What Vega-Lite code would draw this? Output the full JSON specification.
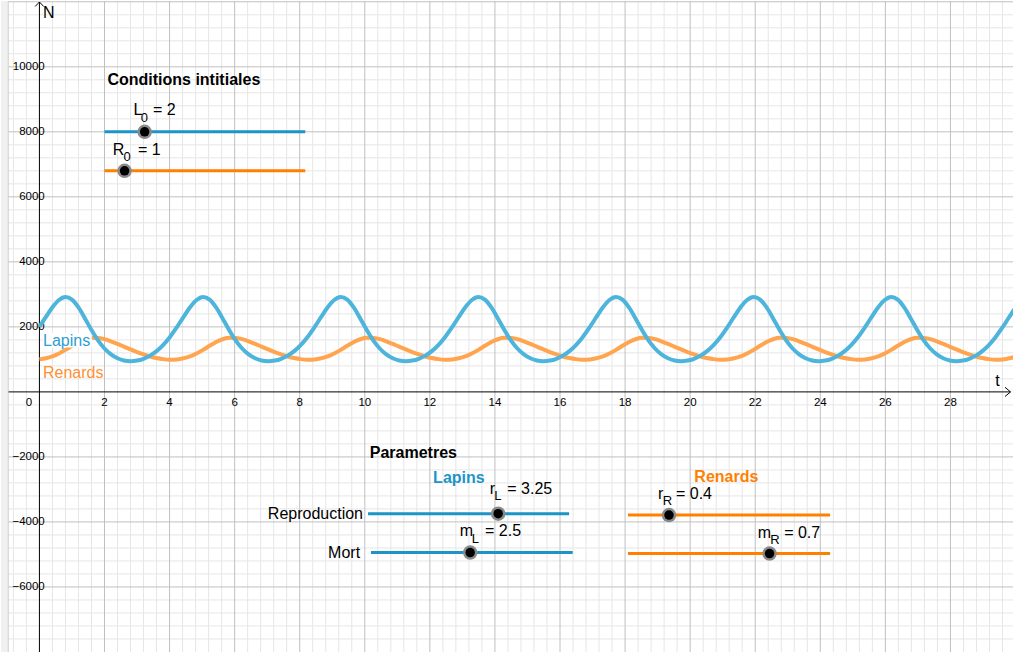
{
"$schema":"https://vega.github.io/schema/vega-lite/v6.json",
"width":1014,"height":653,"padding":0,
"autosize":{"type":"fit","contains":"padding"},
"background":"#ffffff",
"config":{"view":{"stroke":null},"text":{"font":"Liberation Sans"}},
"datasets":{
"gxMinor":[{"x":-0.8},{"x":-0.4},{"x":0.4},{"x":0.8},{"x":1.2},{"x":1.6},{"x":2.4},{"x":2.8},{"x":3.2},{"x":3.6},{"x":4.4},{"x":4.8},{"x":5.2},{"x":5.6},{"x":6.4},{"x":6.8},{"x":7.2},{"x":7.6},{"x":8.4},{"x":8.8},{"x":9.2},{"x":9.6},{"x":10.4},{"x":10.8},{"x":11.2},{"x":11.6},{"x":12.4},{"x":12.8},{"x":13.2},{"x":13.6},{"x":14.4},{"x":14.8},{"x":15.2},{"x":15.6},{"x":16.4},{"x":16.8},{"x":17.2},{"x":17.6},{"x":18.4},{"x":18.8},{"x":19.2},{"x":19.6},{"x":20.4},{"x":20.8},{"x":21.2},{"x":21.6},{"x":22.4},{"x":22.8},{"x":23.2},{"x":23.6},{"x":24.4},{"x":24.8},{"x":25.2},{"x":25.6},{"x":26.4},{"x":26.8},{"x":27.2},{"x":27.6},{"x":28.4},{"x":28.8},{"x":29.2},{"x":29.6}],
"gyMinor":[{"y":-7600},{"y":-7200},{"y":-6800},{"y":-6400},{"y":-5600},{"y":-5200},{"y":-4800},{"y":-4400},{"y":-3600},{"y":-3200},{"y":-2800},{"y":-2400},{"y":-1600},{"y":-1200},{"y":-800},{"y":-400},{"y":400},{"y":800},{"y":1200},{"y":1600},{"y":2400},{"y":2800},{"y":3200},{"y":3600},{"y":4400},{"y":4800},{"y":5200},{"y":5600},{"y":6400},{"y":6800},{"y":7200},{"y":7600},{"y":8400},{"y":8800},{"y":9200},{"y":9600},{"y":10400},{"y":10800},{"y":11200},{"y":11600}],
"gxMajor":[{"x":2},{"x":4},{"x":6},{"x":8},{"x":10},{"x":12},{"x":14},{"x":16},{"x":18},{"x":20},{"x":22},{"x":24},{"x":26},{"x":28}],
"gyMajor":[{"y":-6000},{"y":-4000},{"y":-2000},{"y":2000},{"y":4000},{"y":6000},{"y":8000},{"y":10000},{"y":12000}],
"axes":[{"x":0,"y":-8100,"x2":0,"y2":11993},{"x":-0.95,"y":0,"x2":29.847,"y2":0},{"x":-0.132,"y":11855,"x2":0,"y2":11993},{"x":0.132,"y":11855,"x2":0,"y2":11993},{"x":29.678,"y":141,"x2":29.847,"y2":0},{"x":29.678,"y":-141,"x2":29.847,"y2":0}],
"xlab":[{"x":-0.325,"y":-448,"txt":"0"},{"x":2,"y":-448,"txt":"2"},{"x":4,"y":-448,"txt":"4"},{"x":6,"y":-448,"txt":"6"},{"x":8,"y":-448,"txt":"8"},{"x":10,"y":-448,"txt":"10"},{"x":12,"y":-448,"txt":"12"},{"x":14,"y":-448,"txt":"14"},{"x":16,"y":-448,"txt":"16"},{"x":18,"y":-448,"txt":"18"},{"x":20,"y":-448,"txt":"20"},{"x":22,"y":-448,"txt":"22"},{"x":24,"y":-448,"txt":"24"},{"x":26,"y":-448,"txt":"26"},{"x":28,"y":-448,"txt":"28"}],
"ylab":[{"x":0.163,"y":10000,"txt":"10000"},{"x":0.163,"y":8000,"txt":"8000"},{"x":0.163,"y":6000,"txt":"6000"},{"x":0.163,"y":4000,"txt":"4000"},{"x":0.163,"y":2000,"txt":"2000"},{"x":0.163,"y":-2000,"txt":"−2000"},{"x":0.163,"y":-4000,"txt":"−4000"},{"x":0.163,"y":-6000,"txt":"−6000"}],
"axisNames":[{"x":0.11,"y":11512,"txt":"N"},{"x":29.38,"y":166,"txt":"t"}],
"pop":[
{"x":0,"L":2000,"R":1000},{"x":0.2,"L":2307,"R":1033},{"x":0.4,"L":2601,"R":1093},{"x":0.6,"L":2825,"R":1181},{"x":0.8,"L":2917,"R":1293},{"x":1,"L":2838,"R":1417},{"x":1.2,"L":2598,"R":1533},{"x":1.4,"L":2260,"R":1619},{"x":1.6,"L":1903,"R":1662},{"x":1.8,"L":1585,"R":1661},{"x":2,"L":1335,"R":1622},{"x":2.2,"L":1154,"R":1557},{"x":2.4,"L":1035,"R":1477},{"x":2.6,"L":968,"R":1391},{"x":2.8,"L":945,"R":1305},{"x":3,"L":963,"R":1224},{"x":3.2,"L":1019,"R":1151},{"x":3.4,"L":1115,"R":1090},{"x":3.6,"L":1254,"R":1041},{"x":3.8,"L":1440,"R":1008},{"x":4,"L":1674,"R":992},
{"x":4.23,"L":2000,"R":1000},{"x":4.43,"L":2307,"R":1033},{"x":4.63,"L":2601,"R":1093},{"x":4.83,"L":2825,"R":1181},{"x":5.03,"L":2917,"R":1293},{"x":5.23,"L":2838,"R":1417},{"x":5.43,"L":2598,"R":1533},{"x":5.63,"L":2260,"R":1619},{"x":5.83,"L":1903,"R":1662},{"x":6.03,"L":1585,"R":1661},{"x":6.23,"L":1335,"R":1622},{"x":6.43,"L":1154,"R":1557},{"x":6.63,"L":1035,"R":1477},{"x":6.83,"L":968,"R":1391},{"x":7.03,"L":945,"R":1305},{"x":7.23,"L":963,"R":1224},{"x":7.43,"L":1019,"R":1151},{"x":7.63,"L":1115,"R":1090},{"x":7.83,"L":1254,"R":1041},{"x":8.03,"L":1440,"R":1008},{"x":8.23,"L":1674,"R":992},
{"x":8.46,"L":2000,"R":1000},{"x":8.66,"L":2307,"R":1033},{"x":8.86,"L":2601,"R":1093},{"x":9.06,"L":2825,"R":1181},{"x":9.26,"L":2917,"R":1293},{"x":9.46,"L":2838,"R":1417},{"x":9.66,"L":2598,"R":1533},{"x":9.86,"L":2260,"R":1619},{"x":10.06,"L":1903,"R":1662},{"x":10.26,"L":1585,"R":1661},{"x":10.46,"L":1335,"R":1622},{"x":10.66,"L":1154,"R":1557},{"x":10.86,"L":1035,"R":1477},{"x":11.06,"L":968,"R":1391},{"x":11.26,"L":945,"R":1305},{"x":11.46,"L":963,"R":1224},{"x":11.66,"L":1019,"R":1151},{"x":11.86,"L":1115,"R":1090},{"x":12.06,"L":1254,"R":1041},{"x":12.26,"L":1440,"R":1008},{"x":12.46,"L":1674,"R":992},
{"x":12.69,"L":2000,"R":1000},{"x":12.89,"L":2307,"R":1033},{"x":13.09,"L":2601,"R":1093},{"x":13.29,"L":2825,"R":1181},{"x":13.49,"L":2917,"R":1293},{"x":13.69,"L":2838,"R":1417},{"x":13.89,"L":2598,"R":1533},{"x":14.09,"L":2260,"R":1619},{"x":14.29,"L":1903,"R":1662},{"x":14.49,"L":1585,"R":1661},{"x":14.69,"L":1335,"R":1622},{"x":14.89,"L":1154,"R":1557},{"x":15.09,"L":1035,"R":1477},{"x":15.29,"L":968,"R":1391},{"x":15.49,"L":945,"R":1305},{"x":15.69,"L":963,"R":1224},{"x":15.89,"L":1019,"R":1151},{"x":16.09,"L":1115,"R":1090},{"x":16.29,"L":1254,"R":1041},{"x":16.49,"L":1440,"R":1008},{"x":16.69,"L":1674,"R":992},
{"x":16.92,"L":2000,"R":1000},{"x":17.12,"L":2307,"R":1033},{"x":17.32,"L":2601,"R":1093},{"x":17.52,"L":2825,"R":1181},{"x":17.72,"L":2917,"R":1293},{"x":17.92,"L":2838,"R":1417},{"x":18.12,"L":2598,"R":1533},{"x":18.32,"L":2260,"R":1619},{"x":18.52,"L":1903,"R":1662},{"x":18.72,"L":1585,"R":1661},{"x":18.92,"L":1335,"R":1622},{"x":19.12,"L":1154,"R":1557},{"x":19.32,"L":1035,"R":1477},{"x":19.52,"L":968,"R":1391},{"x":19.72,"L":945,"R":1305},{"x":19.92,"L":963,"R":1224},{"x":20.12,"L":1019,"R":1151},{"x":20.32,"L":1115,"R":1090},{"x":20.52,"L":1254,"R":1041},{"x":20.72,"L":1440,"R":1008},{"x":20.92,"L":1674,"R":992},
{"x":21.15,"L":2000,"R":1000},{"x":21.35,"L":2307,"R":1033},{"x":21.55,"L":2601,"R":1093},{"x":21.75,"L":2825,"R":1181},{"x":21.95,"L":2917,"R":1293},{"x":22.15,"L":2838,"R":1417},{"x":22.35,"L":2598,"R":1533},{"x":22.55,"L":2260,"R":1619},{"x":22.75,"L":1903,"R":1662},{"x":22.95,"L":1585,"R":1661},{"x":23.15,"L":1335,"R":1622},{"x":23.35,"L":1154,"R":1557},{"x":23.55,"L":1035,"R":1477},{"x":23.75,"L":968,"R":1391},{"x":23.95,"L":945,"R":1305},{"x":24.15,"L":963,"R":1224},{"x":24.35,"L":1019,"R":1151},{"x":24.55,"L":1115,"R":1090},{"x":24.75,"L":1254,"R":1041},{"x":24.95,"L":1440,"R":1008},{"x":25.15,"L":1674,"R":992},
{"x":25.38,"L":2000,"R":1000},{"x":25.58,"L":2307,"R":1033},{"x":25.78,"L":2601,"R":1093},{"x":25.98,"L":2825,"R":1181},{"x":26.18,"L":2917,"R":1293},{"x":26.38,"L":2838,"R":1417},{"x":26.58,"L":2598,"R":1533},{"x":26.78,"L":2260,"R":1619},{"x":26.98,"L":1903,"R":1662},{"x":27.18,"L":1585,"R":1661},{"x":27.38,"L":1335,"R":1622},{"x":27.58,"L":1154,"R":1557},{"x":27.78,"L":1035,"R":1477},{"x":27.98,"L":968,"R":1391},{"x":28.18,"L":945,"R":1305},{"x":28.38,"L":963,"R":1224},{"x":28.58,"L":1019,"R":1151},{"x":28.78,"L":1115,"R":1090},{"x":28.98,"L":1254,"R":1041},{"x":29.18,"L":1440,"R":1008},{"x":29.38,"L":1674,"R":992},
{"x":29.61,"L":2000,"R":1000},{"x":29.81,"L":2307,"R":1033},{"x":30.01,"L":2601,"R":1093},{"x":30.21,"L":2825,"R":1181}],
"sliders":[{"sp":"Lapins","x":2,"x2":8.17,"y":8000,"v":3.234},{"sp":"Renards","x":2,"x2":8.17,"y":6800,"v":2.617},{"sp":"Lapins","x":10.1,"x2":16.28,"y":-3747,"v":14.1},{"sp":"Lapins","x":10.19,"x2":16.39,"y":-4943,"v":13.24},{"sp":"Renards","x":18.09,"x2":24.3,"y":-3790,"v":19.35},{"sp":"Renards","x":18.09,"x2":24.3,"y":-4974,"v":22.44}],
"heads":[{"x":2.089,"y":9448,"txt":"Conditions intitiales"},{"x":10.153,"y":-2030,"txt":"Parametres"}],
"heads2":[{"x":12.1,"y":-2797,"txt":"Lapins","sp":"Lapins"},{"x":20.13,"y":-2766,"txt":"Renards","sp":"Renards"}],
"labelsR":[{"x":9.945,"y":-3922,"txt":"Reproduction"},{"x":9.856,"y":-5118,"txt":"Mort"}],
"labels":[{"x":2.893,"y":8519,"txt":"L"},{"x":3.491,"y":8519,"txt":"= 2"},{"x":2.255,"y":7292,"txt":"R"},{"x":3.031,"y":7292,"txt":"= 1"},{"x":13.837,"y":-3134,"txt":"r"},{"x":14.38,"y":-3134,"txt":"= 3.25"},{"x":12.92,"y":-4434,"txt":"m"},{"x":13.696,"y":-4434,"txt":"= 2.5"},{"x":19.009,"y":-3287,"txt":"r"},{"x":19.564,"y":-3287,"txt":"= 0.4"},{"x":22.08,"y":-4483,"txt":"m"},{"x":22.89,"y":-4483,"txt":"= 0.7"}],
"subs":[{"x":3.117,"y":8313,"txt":"0"},{"x":2.583,"y":7096,"txt":"0"},{"x":13.976,"y":-3330,"txt":"L"},{"x":13.291,"y":-4640,"txt":"L"},{"x":19.16,"y":-3493,"txt":"R"},{"x":22.46,"y":-4689,"txt":"R"}]
},
"layer":[
{"data":{"name":"gxMinor"},"mark":{"type":"rule","color":"#e6e6e6","strokeWidth":1},"encoding":{"x":{"field":"x","type":"quantitative","scale":{"domain":[-1.181,29.923],"nice":false,"zero":false},"axis":null}}},
{"data":{"name":"gyMinor"},"mark":{"type":"rule","color":"#e6e6e6","strokeWidth":1},"encoding":{"y":{"field":"y","type":"quantitative","scale":{"domain":[-8001,12024],"nice":false,"zero":false},"axis":null}}},
{"data":{"name":"gxMajor"},"mark":{"type":"rule","color":"#c0c0c0","strokeWidth":1},"encoding":{"x":{"field":"x","type":"quantitative","scale":{"domain":[-1.181,29.923],"nice":false,"zero":false},"axis":null}}},
{"data":{"name":"gyMajor"},"mark":{"type":"rule","color":"#c0c0c0","strokeWidth":1},"encoding":{"y":{"field":"y","type":"quantitative","scale":{"domain":[-8001,12024],"nice":false,"zero":false},"axis":null}}},
{"data":{"values":[{"x":-1.3,"x2":-0.966,"y":-8100,"y2":12100}]},"mark":{"type":"rect","color":"#f0f0f0","clip":true},"encoding":{"x":{"field":"x","type":"quantitative","scale":{"domain":[-1.181,29.923],"nice":false,"zero":false},"axis":null},"x2":{"field":"x2"},"y":{"field":"y","type":"quantitative","scale":{"domain":[-8001,12024],"nice":false,"zero":false},"axis":null},"y2":{"field":"y2"}}},
{"data":{"values":[{"x":-0.958,"y":-8100,"x2":-0.958,"y2":12100}]},"mark":{"type":"rule","color":"#d0d0d0","strokeWidth":1,"clip":true},"encoding":{"x":{"field":"x","type":"quantitative","scale":{"domain":[-1.181,29.923],"nice":false,"zero":false},"axis":null},"x2":{"field":"x2"},"y":{"field":"y","type":"quantitative","scale":{"domain":[-8001,12024],"nice":false,"zero":false},"axis":null},"y2":{"field":"y2"}}},
{"data":{"name":"axes"},"mark":{"type":"rule","color":"#000000","strokeWidth":1,"clip":true},"encoding":{"x":{"field":"x","type":"quantitative","scale":{"domain":[-1.181,29.923],"nice":false,"zero":false},"axis":null},"x2":{"field":"x2"},"y":{"field":"y","type":"quantitative","scale":{"domain":[-8001,12024],"nice":false,"zero":false},"axis":null},"y2":{"field":"y2"}}},
{"data":{"name":"xlab"},"mark":{"type":"text","align":"center","baseline":"alphabetic","fontSize":11.5,"color":"#000000"},"encoding":{"x":{"field":"x","type":"quantitative","scale":{"domain":[-1.181,29.923],"nice":false,"zero":false},"axis":null},"y":{"field":"y","type":"quantitative","scale":{"domain":[-8001,12024],"nice":false,"zero":false},"axis":null},"text":{"field":"txt"}}},
{"data":{"name":"ylab"},"mark":{"type":"text","align":"right","baseline":"middle","fontSize":11.5,"color":"#000000"},"encoding":{"x":{"field":"x","type":"quantitative","scale":{"domain":[-1.181,29.923],"nice":false,"zero":false},"axis":null},"y":{"field":"y","type":"quantitative","scale":{"domain":[-8001,12024],"nice":false,"zero":false},"axis":null},"text":{"field":"txt"}}},
{"data":{"name":"axisNames"},"mark":{"type":"text","align":"left","baseline":"alphabetic","fontSize":16,"color":"#000000"},"encoding":{"x":{"field":"x","type":"quantitative","scale":{"domain":[-1.181,29.923],"nice":false,"zero":false},"axis":null},"y":{"field":"y","type":"quantitative","scale":{"domain":[-8001,12024],"nice":false,"zero":false},"axis":null},"text":{"field":"txt"}}},
{"data":{"name":"pop"},"mark":{"type":"line","color":"#FFA54F","strokeWidth":4,"interpolate":"monotone","clip":true},"encoding":{"x":{"field":"x","type":"quantitative","scale":{"domain":[-1.181,29.923],"nice":false,"zero":false},"axis":null},"y":{"field":"R","type":"quantitative","scale":{"domain":[-8001,12024],"nice":false,"zero":false},"axis":null}}},
{"data":{"values":[{"x":0.107,"x2":1.61,"y":1368,"y2":1812}]},"mark":{"type":"rect","color":"#ffffff"},"encoding":{"x":{"field":"x","type":"quantitative","scale":{"domain":[-1.181,29.923],"nice":false,"zero":false},"axis":null},"x2":{"field":"x2"},"y":{"field":"y","type":"quantitative","scale":{"domain":[-8001,12024],"nice":false,"zero":false},"axis":null},"y2":{"field":"y2"}}},
{"data":{"values":[{"x":0.11,"y":1414,"txt":"Lapins"}]},"mark":{"type":"text","align":"left","baseline":"alphabetic","fontSize":16,"color":"#2BA0D4"},"encoding":{"x":{"field":"x","type":"quantitative","scale":{"domain":[-1.181,29.923],"nice":false,"zero":false},"axis":null},"y":{"field":"y","type":"quantitative","scale":{"domain":[-8001,12024],"nice":false,"zero":false},"axis":null},"text":{"field":"txt"}}},
{"data":{"values":[{"x":0.11,"y":423,"txt":"Renards"}]},"mark":{"type":"text","align":"left","baseline":"alphabetic","fontSize":16,"color":"#FF9033"},"encoding":{"x":{"field":"x","type":"quantitative","scale":{"domain":[-1.181,29.923],"nice":false,"zero":false},"axis":null},"y":{"field":"y","type":"quantitative","scale":{"domain":[-8001,12024],"nice":false,"zero":false},"axis":null},"text":{"field":"txt"}}},
{"data":{"name":"pop"},"mark":{"type":"line","color":"#4DB4DC","strokeWidth":4,"interpolate":"monotone","clip":true},"encoding":{"x":{"field":"x","type":"quantitative","scale":{"domain":[-1.181,29.923],"nice":false,"zero":false},"axis":null},"y":{"field":"L","type":"quantitative","scale":{"domain":[-8001,12024],"nice":false,"zero":false},"axis":null}}},
{"data":{"name":"sliders"},"mark":{"type":"rule","strokeWidth":3},"encoding":{"x":{"field":"x","type":"quantitative","scale":{"domain":[-1.181,29.923],"nice":false,"zero":false},"axis":null},"x2":{"field":"x2"},"y":{"field":"y","type":"quantitative","scale":{"domain":[-8001,12024],"nice":false,"zero":false},"axis":null},"color":{"field":"sp","type":"nominal","scale":{"domain":["Lapins","Renards"],"range":["#1C95C6","#FF8000"]},"legend":null}}},
{"data":{"name":"sliders"},"mark":{"type":"circle","color":"#8a8a8a","opacity":1,"size":210},"encoding":{"x":{"field":"v","type":"quantitative","scale":{"domain":[-1.181,29.923],"nice":false,"zero":false},"axis":null},"y":{"field":"y","type":"quantitative","scale":{"domain":[-8001,12024],"nice":false,"zero":false},"axis":null}}},
{"data":{"name":"sliders"},"mark":{"type":"circle","color":"#000000","opacity":1,"size":90},"encoding":{"x":{"field":"v","type":"quantitative","scale":{"domain":[-1.181,29.923],"nice":false,"zero":false},"axis":null},"y":{"field":"y","type":"quantitative","scale":{"domain":[-8001,12024],"nice":false,"zero":false},"axis":null}}},
{"data":{"name":"heads"},"mark":{"type":"text","align":"left","baseline":"alphabetic","fontSize":16,"fontWeight":"bold","color":"#000000"},"encoding":{"x":{"field":"x","type":"quantitative","scale":{"domain":[-1.181,29.923],"nice":false,"zero":false},"axis":null},"y":{"field":"y","type":"quantitative","scale":{"domain":[-8001,12024],"nice":false,"zero":false},"axis":null},"text":{"field":"txt"}}},
{"data":{"name":"heads2"},"mark":{"type":"text","align":"left","baseline":"alphabetic","fontSize":16,"fontWeight":"bold"},"encoding":{"x":{"field":"x","type":"quantitative","scale":{"domain":[-1.181,29.923],"nice":false,"zero":false},"axis":null},"y":{"field":"y","type":"quantitative","scale":{"domain":[-8001,12024],"nice":false,"zero":false},"axis":null},"text":{"field":"txt"},"color":{"field":"sp","type":"nominal","scale":{"domain":["Lapins","Renards"],"range":["#1C95C6","#FF8000"]},"legend":null}}},
{"data":{"name":"labelsR"},"mark":{"type":"text","align":"right","baseline":"alphabetic","fontSize":16,"color":"#000000"},"encoding":{"x":{"field":"x","type":"quantitative","scale":{"domain":[-1.181,29.923],"nice":false,"zero":false},"axis":null},"y":{"field":"y","type":"quantitative","scale":{"domain":[-8001,12024],"nice":false,"zero":false},"axis":null},"text":{"field":"txt"}}},
{"data":{"name":"labels"},"mark":{"type":"text","align":"left","baseline":"alphabetic","fontSize":16,"color":"#000000"},"encoding":{"x":{"field":"x","type":"quantitative","scale":{"domain":[-1.181,29.923],"nice":false,"zero":false},"axis":null},"y":{"field":"y","type":"quantitative","scale":{"domain":[-8001,12024],"nice":false,"zero":false},"axis":null},"text":{"field":"txt"}}},
{"data":{"name":"subs"},"mark":{"type":"text","align":"left","baseline":"alphabetic","fontSize":13,"color":"#000000"},"encoding":{"x":{"field":"x","type":"quantitative","scale":{"domain":[-1.181,29.923],"nice":false,"zero":false},"axis":null},"y":{"field":"y","type":"quantitative","scale":{"domain":[-8001,12024],"nice":false,"zero":false},"axis":null},"text":{"field":"txt"}}}
]
}
